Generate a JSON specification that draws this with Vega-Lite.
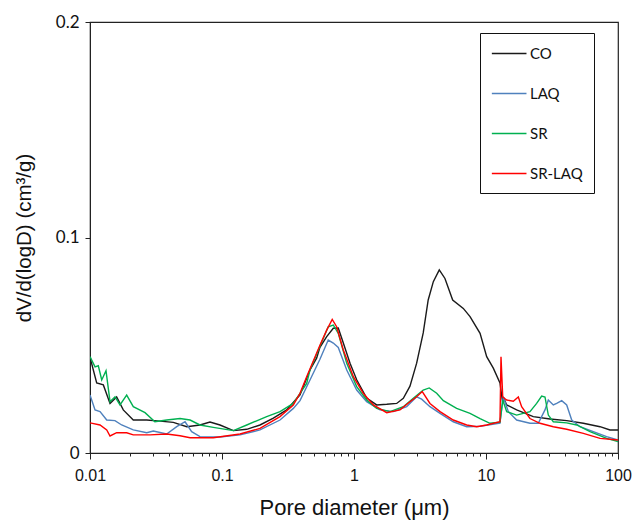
{
  "$schema": "https://vega.github.io/schema/vega-lite/v6.json",
  "width": 528,
  "height": 431,
  "autosize": {"type": "none"},
  "padding": {"left": 90, "top": 22, "right": 18, "bottom": 69},
  "background": "white",
  "config": {
    "view": {"stroke": "#222222", "strokeWidth": 1.2},
    "axis": {"domainColor": "#222222", "tickColor": "#222222", "grid": false}
  },
  "data": {
    "values": [
      {"d": 0.01, "v": 0.0445, "s": "CO"},
      {"d": 0.01124, "v": 0.0325, "s": "CO"},
      {"d": 0.01262, "v": 0.0316, "s": "CO"},
      {"d": 0.01418, "v": 0.023, "s": "CO"},
      {"d": 0.01592, "v": 0.026, "s": "CO"},
      {"d": 0.01787, "v": 0.02, "s": "CO"},
      {"d": 0.02128, "v": 0.0153, "s": "CO"},
      {"d": 0.02689, "v": 0.0153, "s": "CO"},
      {"d": 0.0339, "v": 0.0148, "s": "CO"},
      {"d": 0.0428, "v": 0.0142, "s": "CO"},
      {"d": 0.0541, "v": 0.0122, "s": "CO"},
      {"d": 0.0681, "v": 0.013, "s": "CO"},
      {"d": 0.0811, "v": 0.0144, "s": "CO"},
      {"d": 0.0966, "v": 0.013, "s": "CO"},
      {"d": 0.122, "v": 0.0104, "s": "CO"},
      {"d": 0.154, "v": 0.011, "s": "CO"},
      {"d": 0.194, "v": 0.013, "s": "CO"},
      {"d": 0.245, "v": 0.0162, "s": "CO"},
      {"d": 0.309, "v": 0.02, "s": "CO"},
      {"d": 0.39, "v": 0.027, "s": "CO"},
      {"d": 0.464, "v": 0.0385, "s": "CO"},
      {"d": 0.521, "v": 0.044, "s": "CO"},
      {"d": 0.552, "v": 0.049, "s": "CO"},
      {"d": 0.621, "v": 0.054, "s": "CO"},
      {"d": 0.697, "v": 0.0579, "s": "CO"},
      {"d": 0.76, "v": 0.058, "s": "CO"},
      {"d": 0.83, "v": 0.051, "s": "CO"},
      {"d": 0.933, "v": 0.0417, "s": "CO"},
      {"d": 1.048, "v": 0.034, "s": "CO"},
      {"d": 1.247, "v": 0.0255, "s": "CO"},
      {"d": 1.485, "v": 0.0223, "s": "CO"},
      {"d": 1.77, "v": 0.0226, "s": "CO"},
      {"d": 2.105, "v": 0.023, "s": "CO"},
      {"d": 2.364, "v": 0.0254, "s": "CO"},
      {"d": 2.655, "v": 0.031, "s": "CO"},
      {"d": 2.983, "v": 0.0417, "s": "CO"},
      {"d": 3.345, "v": 0.0557, "s": "CO"},
      {"d": 3.648, "v": 0.071, "s": "CO"},
      {"d": 3.99, "v": 0.0795, "s": "CO"},
      {"d": 4.426, "v": 0.085, "s": "CO"},
      {"d": 4.887, "v": 0.081, "s": "CO"},
      {"d": 5.592, "v": 0.071, "s": "CO"},
      {"d": 6.73, "v": 0.0671, "s": "CO"},
      {"d": 7.57, "v": 0.0633, "s": "CO"},
      {"d": 9.016, "v": 0.0555, "s": "CO"},
      {"d": 10.12, "v": 0.0447, "s": "CO"},
      {"d": 11.36, "v": 0.0394, "s": "CO"},
      {"d": 12.76, "v": 0.0325, "s": "CO"},
      {"d": 13.39, "v": 0.023, "s": "CO"},
      {"d": 13.52, "v": 0.026, "s": "CO"},
      {"d": 14.35, "v": 0.0223, "s": "CO"},
      {"d": 17.07, "v": 0.02, "s": "CO"},
      {"d": 22.81, "v": 0.0169, "s": "CO"},
      {"d": 30.53, "v": 0.0158, "s": "CO"},
      {"d": 40.86, "v": 0.015, "s": "CO"},
      {"d": 54.62, "v": 0.0138, "s": "CO"},
      {"d": 73.1, "v": 0.0122, "s": "CO"},
      {"d": 86.96, "v": 0.0107, "s": "CO"},
      {"d": 100, "v": 0.0107, "s": "CO"},

      {"d": 0.01, "v": 0.0269, "s": "LAQ"},
      {"d": 0.01092, "v": 0.02, "s": "LAQ"},
      {"d": 0.01191, "v": 0.0192, "s": "LAQ"},
      {"d": 0.01339, "v": 0.0153, "s": "LAQ"},
      {"d": 0.01546, "v": 0.015, "s": "LAQ"},
      {"d": 0.01738, "v": 0.013, "s": "LAQ"},
      {"d": 0.02128, "v": 0.0107, "s": "LAQ"},
      {"d": 0.02689, "v": 0.0094, "s": "LAQ"},
      {"d": 0.0302, "v": 0.0102, "s": "LAQ"},
      {"d": 0.0381, "v": 0.0088, "s": "LAQ"},
      {"d": 0.0454, "v": 0.0122, "s": "LAQ"},
      {"d": 0.0525, "v": 0.0145, "s": "LAQ"},
      {"d": 0.0589, "v": 0.0099, "s": "LAQ"},
      {"d": 0.0681, "v": 0.0076, "s": "LAQ"},
      {"d": 0.0966, "v": 0.0074, "s": "LAQ"},
      {"d": 0.137, "v": 0.0084, "s": "LAQ"},
      {"d": 0.194, "v": 0.0107, "s": "LAQ"},
      {"d": 0.275, "v": 0.0153, "s": "LAQ"},
      {"d": 0.347, "v": 0.0207, "s": "LAQ"},
      {"d": 0.39, "v": 0.0243, "s": "LAQ"},
      {"d": 0.464, "v": 0.0339, "s": "LAQ"},
      {"d": 0.552, "v": 0.0435, "s": "LAQ"},
      {"d": 0.638, "v": 0.0524, "s": "LAQ"},
      {"d": 0.697, "v": 0.051, "s": "LAQ"},
      {"d": 0.76, "v": 0.049, "s": "LAQ"},
      {"d": 0.881, "v": 0.0385, "s": "LAQ"},
      {"d": 1.048, "v": 0.0292, "s": "LAQ"},
      {"d": 1.247, "v": 0.0238, "s": "LAQ"},
      {"d": 1.574, "v": 0.02, "s": "LAQ"},
      {"d": 1.987, "v": 0.0192, "s": "LAQ"},
      {"d": 2.506, "v": 0.0215, "s": "LAQ"},
      {"d": 2.983, "v": 0.0261, "s": "LAQ"},
      {"d": 3.254, "v": 0.025, "s": "LAQ"},
      {"d": 3.763, "v": 0.0215, "s": "LAQ"},
      {"d": 4.486, "v": 0.0184, "s": "LAQ"},
      {"d": 5.65, "v": 0.0145, "s": "LAQ"},
      {"d": 7.14, "v": 0.0122, "s": "LAQ"},
      {"d": 9.016, "v": 0.0124, "s": "LAQ"},
      {"d": 12.76, "v": 0.0138, "s": "LAQ"},
      {"d": 13.52, "v": 0.0261, "s": "LAQ"},
      {"d": 14.76, "v": 0.0192, "s": "LAQ"},
      {"d": 17.07, "v": 0.0153, "s": "LAQ"},
      {"d": 21.53, "v": 0.0138, "s": "LAQ"},
      {"d": 24.88, "v": 0.0138, "s": "LAQ"},
      {"d": 27.98, "v": 0.02, "s": "LAQ"},
      {"d": 29.65, "v": 0.0246, "s": "LAQ"},
      {"d": 32.36, "v": 0.0223, "s": "LAQ"},
      {"d": 34.32, "v": 0.023, "s": "LAQ"},
      {"d": 37.47, "v": 0.0243, "s": "LAQ"},
      {"d": 40.86, "v": 0.0223, "s": "LAQ"},
      {"d": 44.6, "v": 0.0153, "s": "LAQ"},
      {"d": 51.57, "v": 0.0122, "s": "LAQ"},
      {"d": 65.01, "v": 0.0099, "s": "LAQ"},
      {"d": 82.06, "v": 0.0076, "s": "LAQ"},
      {"d": 100, "v": 0.006, "s": "LAQ"},

      {"d": 0.01, "v": 0.0447, "s": "SR"},
      {"d": 0.01092, "v": 0.04, "s": "SR"},
      {"d": 0.01156, "v": 0.0405, "s": "SR"},
      {"d": 0.01227, "v": 0.0339, "s": "SR"},
      {"d": 0.01322, "v": 0.0382, "s": "SR"},
      {"d": 0.01418, "v": 0.0238, "s": "SR"},
      {"d": 0.01546, "v": 0.0261, "s": "SR"},
      {"d": 0.01687, "v": 0.0223, "s": "SR"},
      {"d": 0.01896, "v": 0.0269, "s": "SR"},
      {"d": 0.02128, "v": 0.0215, "s": "SR"},
      {"d": 0.02611, "v": 0.0187, "s": "SR"},
      {"d": 0.031, "v": 0.0145, "s": "SR"},
      {"d": 0.0381, "v": 0.0153, "s": "SR"},
      {"d": 0.0481, "v": 0.016, "s": "SR"},
      {"d": 0.0573, "v": 0.0153, "s": "SR"},
      {"d": 0.0681, "v": 0.013, "s": "SR"},
      {"d": 0.0859, "v": 0.0119, "s": "SR"},
      {"d": 0.122, "v": 0.0104, "s": "SR"},
      {"d": 0.154, "v": 0.013, "s": "SR"},
      {"d": 0.218, "v": 0.0169, "s": "SR"},
      {"d": 0.275, "v": 0.0192, "s": "SR"},
      {"d": 0.347, "v": 0.023, "s": "SR"},
      {"d": 0.438, "v": 0.0323, "s": "SR"},
      {"d": 0.464, "v": 0.0385, "s": "SR"},
      {"d": 0.552, "v": 0.0495, "s": "SR"},
      {"d": 0.638, "v": 0.0586, "s": "SR"},
      {"d": 0.697, "v": 0.0594, "s": "SR"},
      {"d": 0.76, "v": 0.0555, "s": "SR"},
      {"d": 0.881, "v": 0.0416, "s": "SR"},
      {"d": 1.048, "v": 0.0308, "s": "SR"},
      {"d": 1.247, "v": 0.0246, "s": "SR"},
      {"d": 1.485, "v": 0.0207, "s": "SR"},
      {"d": 1.875, "v": 0.0192, "s": "SR"},
      {"d": 2.364, "v": 0.0215, "s": "SR"},
      {"d": 2.813, "v": 0.0254, "s": "SR"},
      {"d": 3.345, "v": 0.0292, "s": "SR"},
      {"d": 3.715, "v": 0.0302, "s": "SR"},
      {"d": 4.23, "v": 0.0277, "s": "SR"},
      {"d": 4.753, "v": 0.0243, "s": "SR"},
      {"d": 5.99, "v": 0.0207, "s": "SR"},
      {"d": 7.57, "v": 0.0184, "s": "SR"},
      {"d": 9.016, "v": 0.016, "s": "SR"},
      {"d": 10.72, "v": 0.0138, "s": "SR"},
      {"d": 12.76, "v": 0.0143, "s": "SR"},
      {"d": 13.39, "v": 0.0246, "s": "SR"},
      {"d": 14.35, "v": 0.0192, "s": "SR"},
      {"d": 17.07, "v": 0.0176, "s": "SR"},
      {"d": 21.53, "v": 0.0192, "s": "SR"},
      {"d": 24.19, "v": 0.023, "s": "SR"},
      {"d": 26.41, "v": 0.0264, "s": "SR"},
      {"d": 27.98, "v": 0.026, "s": "SR"},
      {"d": 29.65, "v": 0.0176, "s": "SR"},
      {"d": 32.36, "v": 0.0145, "s": "SR"},
      {"d": 40.86, "v": 0.014, "s": "SR"},
      {"d": 48.66, "v": 0.013, "s": "SR"},
      {"d": 61.37, "v": 0.0099, "s": "SR"},
      {"d": 82.06, "v": 0.0068, "s": "SR"},
      {"d": 100, "v": 0.0053, "s": "SR"},

      {"d": 0.01, "v": 0.014, "s": "SR-LAQ"},
      {"d": 0.01191, "v": 0.013, "s": "SR-LAQ"},
      {"d": 0.01339, "v": 0.0107, "s": "SR-LAQ"},
      {"d": 0.01418, "v": 0.0079, "s": "SR-LAQ"},
      {"d": 0.01592, "v": 0.0094, "s": "SR-LAQ"},
      {"d": 0.01896, "v": 0.0094, "s": "SR-LAQ"},
      {"d": 0.02128, "v": 0.0084, "s": "SR-LAQ"},
      {"d": 0.02851, "v": 0.0084, "s": "SR-LAQ"},
      {"d": 0.0381, "v": 0.0088, "s": "SR-LAQ"},
      {"d": 0.0481, "v": 0.008, "s": "SR-LAQ"},
      {"d": 0.0573, "v": 0.0071, "s": "SR-LAQ"},
      {"d": 0.0859, "v": 0.0071, "s": "SR-LAQ"},
      {"d": 0.137, "v": 0.0088, "s": "SR-LAQ"},
      {"d": 0.194, "v": 0.0114, "s": "SR-LAQ"},
      {"d": 0.275, "v": 0.0169, "s": "SR-LAQ"},
      {"d": 0.347, "v": 0.0223, "s": "SR-LAQ"},
      {"d": 0.39, "v": 0.0277, "s": "SR-LAQ"},
      {"d": 0.438, "v": 0.0354, "s": "SR-LAQ"},
      {"d": 0.552, "v": 0.05, "s": "SR-LAQ"},
      {"d": 0.621, "v": 0.057, "s": "SR-LAQ"},
      {"d": 0.684, "v": 0.062, "s": "SR-LAQ"},
      {"d": 0.739, "v": 0.0586, "s": "SR-LAQ"},
      {"d": 0.83, "v": 0.0478, "s": "SR-LAQ"},
      {"d": 0.989, "v": 0.0354, "s": "SR-LAQ"},
      {"d": 1.175, "v": 0.0277, "s": "SR-LAQ"},
      {"d": 1.4, "v": 0.0223, "s": "SR-LAQ"},
      {"d": 1.77, "v": 0.0187, "s": "SR-LAQ"},
      {"d": 2.23, "v": 0.02, "s": "SR-LAQ"},
      {"d": 2.655, "v": 0.0238, "s": "SR-LAQ"},
      {"d": 2.983, "v": 0.0261, "s": "SR-LAQ"},
      {"d": 3.289, "v": 0.0285, "s": "SR-LAQ"},
      {"d": 3.763, "v": 0.023, "s": "SR-LAQ"},
      {"d": 4.486, "v": 0.0192, "s": "SR-LAQ"},
      {"d": 5.65, "v": 0.0153, "s": "SR-LAQ"},
      {"d": 7.14, "v": 0.013, "s": "SR-LAQ"},
      {"d": 8.505, "v": 0.0122, "s": "SR-LAQ"},
      {"d": 10.12, "v": 0.013, "s": "SR-LAQ"},
      {"d": 12.76, "v": 0.0145, "s": "SR-LAQ"},
      {"d": 12.99, "v": 0.0447, "s": "SR-LAQ"},
      {"d": 13.39, "v": 0.026, "s": "SR-LAQ"},
      {"d": 14.35, "v": 0.0246, "s": "SR-LAQ"},
      {"d": 16.1, "v": 0.024, "s": "SR-LAQ"},
      {"d": 17.57, "v": 0.026, "s": "SR-LAQ"},
      {"d": 18.62, "v": 0.0215, "s": "SR-LAQ"},
      {"d": 21.53, "v": 0.016, "s": "SR-LAQ"},
      {"d": 25.64, "v": 0.0138, "s": "SR-LAQ"},
      {"d": 32.36, "v": 0.0122, "s": "SR-LAQ"},
      {"d": 40.86, "v": 0.011, "s": "SR-LAQ"},
      {"d": 54.62, "v": 0.0091, "s": "SR-LAQ"},
      {"d": 73.1, "v": 0.0068, "s": "SR-LAQ"},
      {"d": 100, "v": 0.006, "s": "SR-LAQ"}
    ]
  },
  "mark": {"type": "line", "strokeWidth": 1.4, "clip": true},
  "encoding": {
    "x": {
      "field": "d",
      "type": "quantitative",
      "scale": {"type": "log", "domain": [0.01, 100], "nice": false},
      "axis": {
        "title": "Pore diameter (μm)",
        "titleFont": "Liberation Sans",
        "titleFontSize": 22,
        "titleFontWeight": "normal",
        "titleColor": "#111111",
        "titlePadding": 14,
        "values": [0.01, 0.02, 0.03, 0.04, 0.05, 0.06, 0.07, 0.08, 0.09, 0.1, 0.2, 0.3, 0.4, 0.5, 0.6, 0.7, 0.8, 0.9, 1, 2, 3, 4, 5, 6, 7, 8, 9, 10, 20, 30, 40, 50, 60, 70, 80, 90, 100],
        "labelExpr": "(datum.value == 0.01 || datum.value == 0.1 || datum.value == 1 || datum.value == 10 || datum.value == 100) ? '' + datum.value : ''",
        "labelOverlap": false,
        "labelFlush": false,
        "labelFont": "Liberation Sans",
        "labelFontSize": 16,
        "labelColor": "#111111",
        "labelPadding": 8,
        "tickSize": {"condition": {"test": "datum.value == 0.01 || datum.value == 0.1 || datum.value == 1 || datum.value == 10 || datum.value == 100", "value": 6}, "value": 3},
        "tickWidth": 1
      }
    },
    "y": {
      "field": "v",
      "type": "quantitative",
      "scale": {"domain": [0, 0.2], "nice": false},
      "axis": {
        "title": "dV/d(logD) (cm³/g)",
        "titleFont": "Liberation Sans",
        "titleFontSize": 20.5,
        "titleFontWeight": "normal",
        "titleColor": "#111111",
        "titlePadding": 21,
        "values": [0, 0.1, 0.2],
        "labelExpr": "'' + datum.value",
        "labelFont": "Lato",
        "labelFontSize": 17,
        "labelColor": "#111111",
        "labelPadding": 6,
        "tickSize": 5
      }
    },
    "color": {
      "field": "s",
      "type": "nominal",
      "scale": {"domain": ["CO", "LAQ", "SR", "SR-LAQ"], "range": ["#1a1a1a", "#4f81bd", "#00b050", "#ff0000"]},
      "legend": {
        "title": null,
        "orient": "none",
        "legendX": 390,
        "legendY": 11,
        "symbolType": "M-1,0L3,0",
        "symbolSize": 300,
        "symbolStrokeWidth": 1.6,
        "symbolFillColor": "transparent",
        "labelFont": "Lato",
        "labelFontSize": 15,
        "labelColor": "#111111",
        "labelOffset": 20,
        "rowPadding": 22,
        "padding": 11,
        "strokeColor": "#111111",
        "fillColor": "white",
        "labelLimit": 200
      }
    }
  }
}
